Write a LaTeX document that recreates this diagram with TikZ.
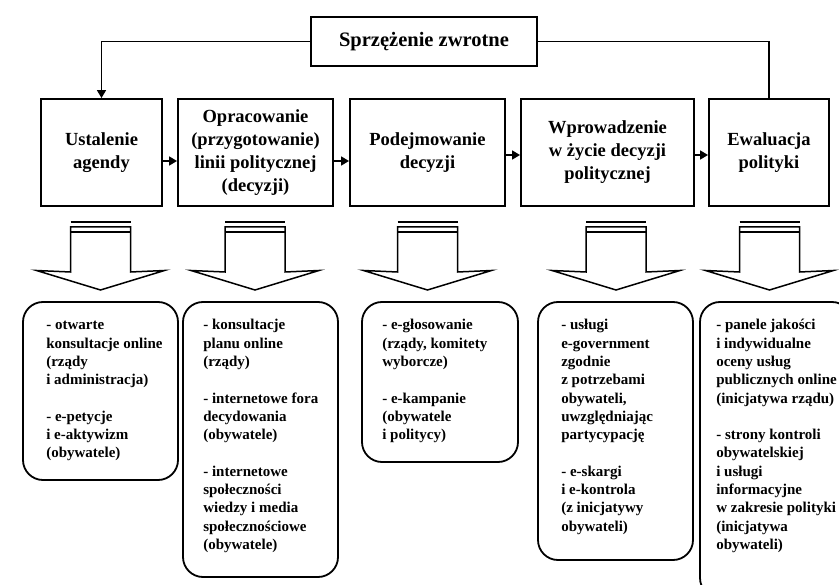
\documentclass[tikz,border=0pt]{standalone}
\usepackage{fontspec}
\setmainfont{Liberation Serif}
\usetikzlibrary{arrows.meta}

\tikzset{
  stage/.style={draw, line width=1.9pt, align=center, inner sep=0pt,
    font=\fontsize{18.5}{23}\selectfont\bfseries},
  feedback/.style={draw, line width=1.9pt, inner sep=0pt,
    font=\fontsize{20.5}{24}\selectfont\bfseries},
  note/.style={draw, line width=1.8pt, rounded corners=20pt, inner sep=0pt},
  notetext/.style={anchor=north west, align=left, inner sep=0pt,
    font=\fontsize{15}{18.3}\selectfont\bfseries},
  link/.style={line width=1.6pt, -{Triangle[length=8pt,width=9pt]}},
  plainlink/.style={line width=1.6pt},
  downarrow/.pic={
    \draw[line width=1.5pt] (-30,0) -- (30,0);
    \draw[line width=1.5pt, line join=miter]
      (-30,50) -- (-30,5) -- (30,5) -- (30,50) -- (64,48.5) -- (0,68)
      -- (-64,48.5) -- cycle;
    \draw[line width=1.5pt] (-30,10) -- (30,10);
  }
}

\begin{document}
\begin{tikzpicture}[x=1pt,y=-1pt]
\useasboundingbox (0,0) rectangle (839,585);
\fill[white] (0,0) rectangle (839,585);
\clip (0,0) rectangle (839,585);

% feedback box
\node[feedback, minimum width=226pt, minimum height=49pt] (fb) at (424,41.5)
  {Sprzężenie zwrotne};

% stages of the policy cycle
\node[stage, minimum width=121pt, minimum height=107pt] (s1) at (101.5,152.5)
  {Ustalenie\\agendy};
\node[stage, minimum width=155pt, minimum height=107pt] (s2) at (255.5,152.5)
  {Opracowanie\\(przygotowanie)\\linii politycznej\\(decyzji)};
\node[stage, minimum width=155pt, minimum height=107pt] (s3) at (427.5,152.5)
  {Podejmowanie\\decyzji};
\node[stage, minimum width=173pt, minimum height=107pt] (s4) at (607.5,152.5)
  {Wprowadzenie\\w życie decyzji\\politycznej};
\node[stage, minimum width=120pt, minimum height=107pt] (s5) at (769,152.5)
  {Ewaluacja\\polityki};

% arrows between stages
\draw[link] (s1.east |- 0,161) -- (s2.west |- 0,161);
\draw[link] (s2.east |- 0,161) -- (s3.west |- 0,161);
\draw[link] (s3.east |- 0,155) -- (s4.west |- 0,155);
\draw[link] (s4.east |- 0,155) -- (s5.west |- 0,155);

% feedback loop
\draw[plainlink] (s5.north) |- (fb.east);
\draw[link] (fb.west) -| (s1.north);

% block arrows
\pic at (100.5,222) {downarrow};
\pic at (255,222) {downarrow};
\pic at (427.5,222) {downarrow};
\pic at (616,222) {downarrow};
\pic at (769.5,222) {downarrow};

% tool boxes
\node[note, minimum width=155pt, minimum height=178pt] (nA) at (100.5,391) {};
\node[note, minimum width=155pt, minimum height=275pt] (nB) at (260.5,439.5) {};
\node[note, minimum width=156pt, minimum height=160pt] (nC) at (440,382) {};
\node[note, minimum width=155pt, minimum height=258pt] (nD) at (615.5,431) {};
\node[note, minimum width=152pt, minimum height=296pt] (nE) at (776,450) {};

\node[notetext] (tA) at ([shift={(24,15.7)}]nA.north west)
  {\strut- otwarte\\konsultacje online\\(rządy\\i administracja)\\[18.3pt]
   - e-petycje\\i e-aktywizm\\(obywatele)};
\node[notetext] (tB) at ([shift={(21,15.7)}]nB.north west)
  {\strut- konsultacje\\planu online\\(rządy)\\[18.3pt]
   - internetowe fora\\decydowania\\(obywatele)\\[18.3pt]
   - internetowe\\społeczności\\wiedzy i media\\społecznościowe\\(obywatele)};
\node[notetext] (tC) at ([shift={(21,15.7)}]nC.north west)
  {\strut- e-głosowanie\\(rządy, komitety\\wyborcze)\\[18.3pt]
   - e-kampanie\\(obywatele\\i politycy)};
\node[notetext] (tD) at ([shift={(24,15.7)}]nD.north west)
  {\strut- usługi\\e-government\\zgodnie\\z potrzebami\\obywateli,\\uwzględniając\\partycypację\\[18.3pt]
   - e-skargi\\i e-kontrola\\(z inicjatywy\\obywateli)};
\node[notetext] (tE) at ([shift={(17,15.7)}]nE.north west)
  {\strut- panele jakości\\i indywidualne\\oceny usług\\publicznych online\\(inicjatywa rządu)\\[18.3pt]
   - strony kontroli\\obywatelskiej\\i usługi\\informacyjne\\w zakresie polityki\\(inicjatywa\\obywateli)};
\end{tikzpicture}
\end{document}
